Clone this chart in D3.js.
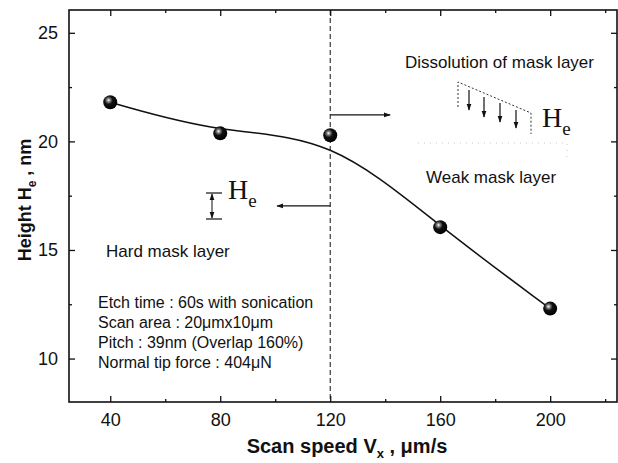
<!DOCTYPE html>
<html>
<head>
<meta charset="utf-8">
<script src="https://cdn.jsdelivr.net/npm/d3@7"></script>
<style>
  body { margin: 0; background: #fff; }
  text { font-family: "Liberation Sans", Arial, sans-serif; fill: #111; }
</style>
</head>
<body>
<div id="chart"></div>
<script>
// data
var speeds = [40, 80, 120, 160, 200];
var heights = [21.8, 20.37, 20.28, 16.05, 12.3];
var xMajor = [40, 80, 120, 160, 200];
var xMinor = [60, 100, 140, 180, 220];
var yMajor = [10, 15, 20, 25];
var yMinor = [12.5, 17.5, 22.5];
var notes = ["Etch time : 60s with sonication", "Scan area : 20\u03bcmx10\u03bcm",
  "Pitch : 39nm (Overlap 160%)", "Normal tip force : 404\u03bcN"];

var W = 618, H = 463;
var margin = {top: 10, right: 1, bottom: 61, left: 69},
  width = W - margin.left - margin.right,
  height = H - margin.top - margin.bottom;

var svg = d3.select("#chart").append("svg")
  .attr("width", W).attr("height", H);

var defs = svg.append("defs");
var grad = defs.append("radialGradient").attr("id", "ball")
  .attr("cx", "38%").attr("cy", "35%").attr("r", "65%");
grad.append("stop").attr("offset", "0%").attr("stop-color", "#fff");
grad.append("stop").attr("offset", "18%").attr("stop-color", "#888");
grad.append("stop").attr("offset", "45%").attr("stop-color", "#111");
grad.append("stop").attr("offset", "100%").attr("stop-color", "#000");
defs.append("marker").attr("id", "arr").attr("viewBox", "0 0 10 10")
  .attr("refX", 9).attr("refY", 5).attr("markerWidth", 7).attr("markerHeight", 7)
  .attr("markerUnits", "userSpaceOnUse").attr("orient", "auto")
  .append("path").attr("d", "M0,1.5L10,5L0,8.5Z").attr("fill", "#111");

var g = svg.append("g").attr("transform", "translate(" + margin.left + "," + margin.top + ")");

var x = d3.scaleLinear().domain([25, 224.3]).range([0, width]);
var y = d3.scaleLinear().domain([8.0, 26.05]).range([height, 0]);

// axes, ticks pointing inward
function styleAxis(sel) {
  sel.select(".domain").remove();
  sel.selectAll("line").attr("stroke", "#111").attr("stroke-width", 1.3);
  sel.selectAll("text").style("font-size", "18px").attr("fill", "#111");
}
g.append("g").attr("transform", "translate(0," + height + ")")
  .call(d3.axisBottom(x).tickValues(xMajor).tickSize(-6).tickPadding(11)).call(styleAxis);
g.append("g").attr("transform", "translate(0," + height + ")")
  .call(d3.axisBottom(x).tickValues(xMinor).tickSize(-3).tickFormat("")).call(styleAxis);
g.append("g")
  .call(d3.axisTop(x).tickValues(xMajor).tickSize(-6).tickFormat("")).call(styleAxis);
g.append("g")
  .call(d3.axisTop(x).tickValues(xMinor).tickSize(-3).tickFormat("")).call(styleAxis);
g.append("g")
  .call(d3.axisLeft(y).tickValues(yMajor).tickSize(-6).tickPadding(11)).call(styleAxis);
g.append("g")
  .call(d3.axisLeft(y).tickValues(yMinor).tickSize(-3).tickFormat("")).call(styleAxis);
g.append("g").attr("transform", "translate(" + width + ",0)")
  .call(d3.axisRight(y).tickValues(yMajor).tickSize(-6).tickFormat("")).call(styleAxis);
g.append("g").attr("transform", "translate(" + width + ",0)")
  .call(d3.axisRight(y).tickValues(yMinor).tickSize(-3).tickFormat("")).call(styleAxis);

g.append("rect").attr("width", width).attr("height", height)
  .attr("fill", "none").attr("stroke", "#111").attr("stroke-width", 1.6);

// dashed divider at 120
g.append("line").attr("x1", x(120)).attr("x2", x(120)).attr("y1", 0).attr("y2", height)
  .attr("stroke", "#111").attr("stroke-width", 1).attr("stroke-dasharray", "5,3");

// fitted curve
var pts = speeds.map(function(s, i) { return [s, heights[i]]; });
g.append("path").datum(pts)
  .attr("d", d3.line().x(function(d) { return x(d[0]); }).y(function(d) { return y(d[1]); })
    .curve(d3.curveBasis))
  .attr("fill", "none").attr("stroke", "#111").attr("stroke-width", 1.5);

g.selectAll(".pt").data(pts).enter().append("circle")
  .attr("cx", function(d) { return x(d[0]); }).attr("cy", function(d) { return y(d[1]); })
  .attr("r", 7).attr("fill", "url(#ball)");

// arrows from divider
g.append("line").attr("x1", x(120)).attr("x2", x(141.8)).attr("y1", y(21.22)).attr("y2", y(21.22))
  .attr("stroke", "#111").attr("stroke-width", 1.2).attr("marker-end", "url(#arr)");
g.append("line").attr("x1", x(120)).attr("x2", x(100.7)).attr("y1", y(17.03)).attr("y2", y(17.03))
  .attr("stroke", "#111").attr("stroke-width", 1.2).attr("marker-end", "url(#arr)");

// dissolution sketch
var ann = svg.append("g");
ann.append("path").attr("d", "M458,107L458,82L531,113L531,134")
  .attr("fill", "none").attr("stroke", "#333").attr("stroke-width", 1).attr("stroke-dasharray", "2,2");
[[469, 90, 110], [484, 97, 117], [500, 103, 122], [516, 110, 128]].forEach(function(a) {
  ann.append("line").attr("x1", a[0]).attr("x2", a[0]).attr("y1", a[1]).attr("y2", a[2])
    .attr("stroke", "#111").attr("stroke-width", 1.2).attr("marker-end", "url(#arr)");
});
ann.append("path").attr("d", "M418,143L567,143L567,160")
  .attr("fill", "none").attr("stroke", "#bbb").attr("stroke-width", 0.8).attr("stroke-dasharray", "1,5");

// left He marker
ann.append("line").attr("x1", 206).attr("x2", 222).attr("y1", 193).attr("y2", 193).attr("stroke", "#111").attr("stroke-width", 1.2);
ann.append("line").attr("x1", 206).attr("x2", 222).attr("y1", 219).attr("y2", 219).attr("stroke", "#111").attr("stroke-width", 1.2);
ann.append("line").attr("x1", 212).attr("x2", 212).attr("y1", 206).attr("y2", 194)
  .attr("stroke", "#111").attr("stroke-width", 1).attr("marker-end", "url(#arr)");
ann.append("line").attr("x1", 212).attr("x2", 212).attr("y1", 206).attr("y2", 218)
  .attr("stroke", "#111").attr("stroke-width", 1).attr("marker-end", "url(#arr)");

function he(xp, yp) {
  var t = ann.append("text").attr("x", xp).attr("y", yp)
    .style("font-family", "'Liberation Serif', 'Times New Roman', serif").style("font-size", "28px");
  t.append("tspan").text("H");
  t.append("tspan").attr("dy", 8).style("font-size", "19px").text("e");
}
he(542, 127);
he(228, 199);

ann.append("text").attr("x", 405).attr("y", 68).style("font-size", "17px").text("Dissolution of mask layer");
ann.append("text").attr("x", 426).attr("y", 183).style("font-size", "17px").text("Weak mask layer");
ann.append("text").attr("x", 106).attr("y", 257).style("font-size", "17px").text("Hard mask layer");
ann.selectAll(".note").data(notes).enter().append("text")
  .attr("x", 98).attr("y", function(d, i) { return 308 + i * 20; })
  .style("font-size", "16px").text(function(d) { return d; });

// axis titles
var xt = svg.append("text").attr("x", 347).attr("y", 453).attr("text-anchor", "middle")
  .style("font-size", "20px").style("font-weight", "bold");
xt.append("tspan").text("Scan speed V");
xt.append("tspan").attr("dy", 5).style("font-size", "13px").text("x");
xt.append("tspan").attr("dy", -5).text(" , \u03bcm/s");

var yt = svg.append("text").attr("transform", "translate(31,200) rotate(-90)")
  .attr("text-anchor", "middle").style("font-size", "18px").style("font-weight", "bold");
yt.append("tspan").text("Height H");
yt.append("tspan").attr("dy", 5).style("font-size", "12px").text("e");
yt.append("tspan").attr("dy", -5).text(" , nm");
</script>
</body>
</html>
